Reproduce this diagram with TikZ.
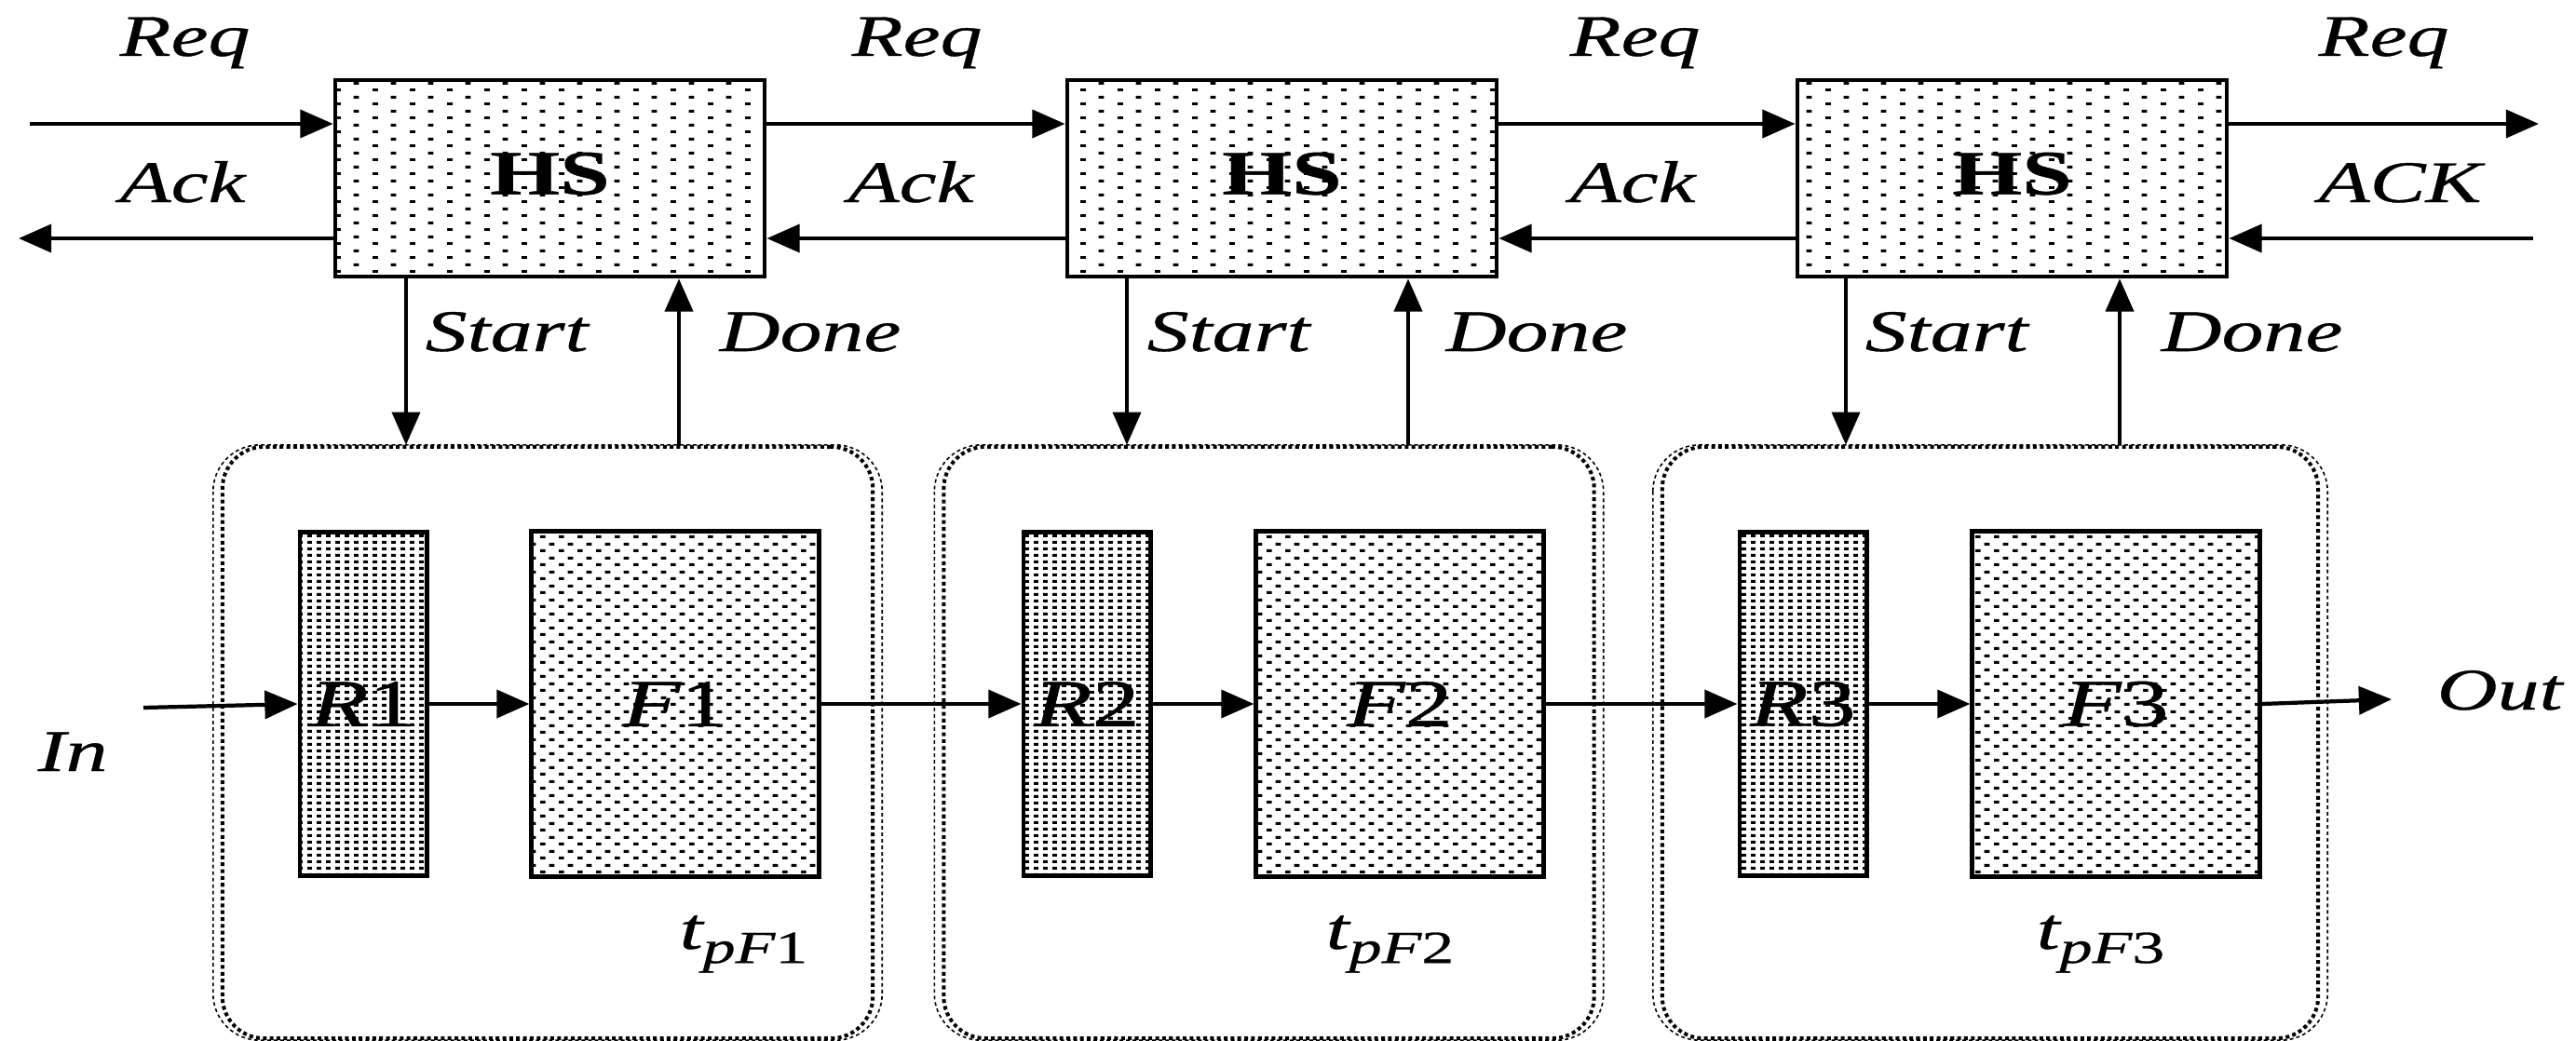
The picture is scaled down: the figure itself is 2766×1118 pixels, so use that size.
\documentclass[tikz,border=0pt]{standalone}
\usepackage{fontspec}
\setmainfont{Liberation Serif}[FakeStretch=1.42,FakeBold=0.6]
\usetikzlibrary{arrows.meta,patterns,calc}

% sparse staggered dots for the handshake blocks
\pgfdeclarepatternformonly{hsdots}{\pgfqpoint{0pt}{0pt}}{\pgfqpoint{11.38pt}{4.27pt}}{\pgfqpoint{11.38pt}{4.27pt}}{%
  \pgfpathrectangle{\pgfqpoint{0pt}{0pt}}{\pgfqpoint{1.7pt}{0.9pt}}%
  \pgfpathrectangle{\pgfqpoint{5.69pt}{2.13pt}}{\pgfqpoint{1.7pt}{0.9pt}}%
  \pgfusepath{fill}}
% medium staggered dots for the function blocks
\pgfdeclarepatternformonly{fundots}{\pgfqpoint{0pt}{0pt}}{\pgfqpoint{5.69pt}{4.27pt}}{\pgfqpoint{5.69pt}{4.27pt}}{%
  \pgfpathrectangle{\pgfqpoint{0pt}{0pt}}{\pgfqpoint{1.7pt}{0.95pt}}%
  \pgfpathrectangle{\pgfqpoint{2.845pt}{2.13pt}}{\pgfqpoint{1.7pt}{0.95pt}}%
  \pgfusepath{fill}}
% dense dots for the registers
\pgfdeclarepatternformonly{regdots}{\pgfqpoint{0pt}{0pt}}{\pgfqpoint{2.845pt}{2.1pt}}{\pgfqpoint{2.845pt}{2.1pt}}{%
  \pgfpathrectangle{\pgfqpoint{0pt}{0pt}}{\pgfqpoint{1.55pt}{0.95pt}}%
  \pgfusepath{fill}}

\begin{document}
\begin{tikzpicture}[x=0.01cm,y=-0.01cm,
  lab/.style={font=\fontsize{18}{20}\selectfont\itshape, inner sep=0pt, anchor=base west},
  sig/.style={line width=1.2pt, -{Triangle[length=10pt,width=8.5pt]}},
  hsbox/.style={draw, line width=1.3pt, pattern=hsdots, minimum width=4.61cm,
    minimum height=2.11cm, inner sep=0pt, font=\fontsize{19.3}{21}\selectfont\bfseries},
  regbox/.style={draw, line width=1.4pt, pattern=regdots, minimum width=1.36cm,
    minimum height=3.68cm, inner sep=0pt, font=\fontsize{20.5}{22}\selectfont\itshape},
  funcbox/.style={draw, line width=1.4pt, pattern=fundots, minimum width=3.08cm,
    minimum height=3.71cm, inner sep=0pt, font=\fontsize{20.5}{22}\selectfont\itshape},
  stagebox/.style={draw, line width=1.14pt, dash pattern=on 1.14pt off 0.95pt,
    rounded corners=0.45cm, minimum width=6.98cm, minimum height=6.35cm, inner sep=0pt},
  stageouter/.style={line width=0.45pt, dash pattern=on 1.1pt off 0.9pt, rounded corners=0.5cm}
]
\useasboundingbox (0,0) rectangle (2766,1118);

% pipeline stages (dotted containers)
\node[stagebox] (stage1) at (588,797.5) {};
\node[stagebox] (stage2) at (1362.5,797.5) {};
\node[stagebox, minimum width=7.04cm] (stage3) at (2137,797.5) {};
\foreach \s in {stage1,stage2,stage3}
  \draw[stageouter] ($(\s.north west)+(-8,0)$) rectangle ($(\s.south east)+(8,0)$);

% handshake controllers
\node[hsbox] (hs1) at (590.5,191.5) {\raisebox{3pt}{HS}};
\node[hsbox] (hs2) at (1376.5,191.5) {\raisebox{3pt}{HS}};
\node[hsbox] (hs3) at (2160.5,191.5) {\raisebox{3pt}{HS}};

% registers and function blocks
\node[regbox] (r1) at (390,756) {R\upshape 1};
\node[funcbox] (f1) at (725,756) {F\upshape 1};
\node[regbox] (r2) at (1167,756) {R\upshape 2};
\node[funcbox] (f2) at (1503,756) {F\upshape 2};
\node[regbox] (r3) at (1936,756) {R\upshape 3};
\node[funcbox] (f3) at (2272,756) {F\upshape 3};

% rails of the request and acknowledge lines
\coordinate (rq) at (0,133);
\coordinate (ak) at (0,256);
\coordinate (reqin) at (32,133);
\coordinate (ackout) at (20,256);
\coordinate (reqout) at (2726,133);
\coordinate (ackin) at (2720,256);

\draw[sig] (reqin) -- (hs1.west |- rq);
\draw[sig] (hs1.west |- ak) -- (ackout);
\draw[sig] (hs1.east |- rq) -- (hs2.west |- rq);
\draw[sig] (hs2.west |- ak) -- (hs1.east |- ak);
\draw[sig] (hs2.east |- rq) -- (hs3.west |- rq);
\draw[sig] (hs3.west |- ak) -- (hs2.east |- ak);
\draw[sig] (hs3.east |- rq) -- (reqout);
\draw[sig] (ackin) -- (hs3.east |- ak);

% start / done handshakes
\coordinate (sx1) at (436,0);  \coordinate (dx1) at (729,0);
\coordinate (sx2) at (1210,0); \coordinate (dx2) at (1512,0);
\coordinate (sx3) at (1982,0); \coordinate (dx3) at (2276,0);
\foreach \i in {1,2,3}{
  \draw[sig] (hs\i.south -| sx\i) -- (stage\i.north -| sx\i);
  \draw[sig] (stage\i.north -| dx\i) -- (hs\i.south -| dx\i);
}

% data path
\coordinate (din) at (154,760);
\coordinate (dout) at (2568,751);
\draw[sig] (din) -- (r1.west);
\draw[sig] (r1.east) -- (f1.west);
\draw[sig] (f1.east) -- (r2.west);
\draw[sig] (r2.east) -- (f2.west);
\draw[sig] (f2.east) -- (r3.west);
\draw[sig] (r3.east) -- (f3.west);
\draw[sig] (f3.east) -- (dout);

% signal labels
\node[lab] (lreq1) at (128,60) {Req};
\node[lab] (lreq2) at (914,60) {Req};
\node[lab] (lreq3) at (1685,60) {Req};
\node[lab] (lreq4) at (2489,60) {Req};
\node[lab] (lack1) at (128,217) {Ack};
\node[lab] (lack2) at (910,217) {Ack};
\node[lab] (lack3) at (1685,217) {Ack};
\node[lab] (lack4) at (2489,217) {ACK};
\node[lab] (lst1) at (456,377) {Start};
\node[lab] (ldn1) at (772,377) {Done};
\node[lab] (lst2) at (1231,377) {Start};
\node[lab] (ldn2) at (1552,377) {Done};
\node[lab] (lst3) at (2002,377) {Start};
\node[lab] (ldn3) at (2320,377) {Done};
\node[lab] (lin) at (40,828) {In};
\node[lab] (lout) at (2616,762) {Out};

% stage delays
\node[lab] (tp1) at (729,1019) {t\raisebox{-4.3pt}{\fontsize{14}{16}\selectfont pF\upshape 1}};
\node[lab] (tp2) at (1423,1019) {t\raisebox{-4.3pt}{\fontsize{14}{16}\selectfont pF\upshape 2}};
\node[lab] (tp3) at (2186,1019) {t\raisebox{-4.3pt}{\fontsize{14}{16}\selectfont pF\upshape 3}};
\end{tikzpicture}
\end{document}
